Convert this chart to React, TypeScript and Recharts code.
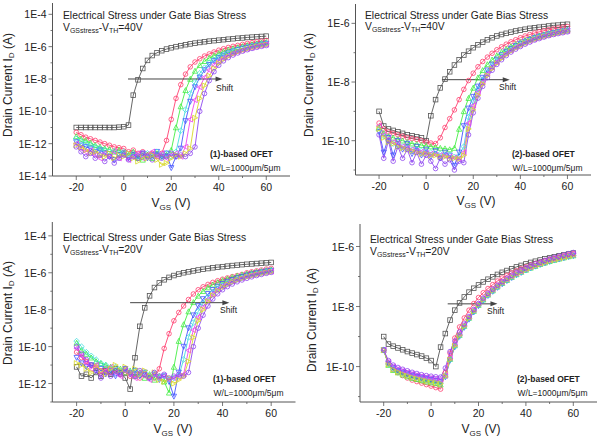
import React from "react";
import { LineChart, Line, XAxis, YAxis, ReferenceLine } from "recharts";

// gate voltage sweep (V)
const vgs = [-20, -18, -16, -14, -12, -10, -8, -6, -4, -2, 0, 2, 4, 6, 8, 10, 12, 14, 16, 18, 20, 22, 24, 26, 28, 30, 32, 34, 36, 38, 40, 42, 44, 46, 48, 50, 52, 54, 56, 58, 60];

// drain current, stored as log10(I_D / A)
// panel 1: (1)-based OFET, VGSstress - VTH = 40V
const p1Black = [-11.0, -11.0, -11.0, -11.0, -11.0, -11.0, -11.0, -11.0, -11.0, -10.98, -10.95, -10.85, -9.0, -8.05, -7.35, -6.85, -6.55, -6.38, -6.25, -6.15, -6.07, -6.0, -5.94, -5.88, -5.83, -5.78, -5.74, -5.7, -5.66, -5.63, -5.6, -5.57, -5.54, -5.51, -5.48, -5.46, -5.43, -5.41, -5.39, -5.37, -5.35];
const p1Red = [-11.3, -11.45, -11.6, -11.7, -11.8, -11.9, -12.0, -12.1, -12.2, -12.25, -12.3, -12.5, -12.4, -12.6, -12.5, -12.7, -12.6, -12.8, -12.6, -11.8, -10.5, -9.2, -8.35, -7.7, -7.25, -6.95, -6.75, -6.58, -6.45, -6.33, -6.22, -6.13, -6.05, -5.98, -5.92, -5.86, -5.8, -5.75, -5.7, -5.66, -5.62];
const p1Green = [-11.55, -11.7, -11.8, -11.95, -12.1, -12.2, -12.3, -12.35, -12.5, -12.4, -12.6, -12.7, -12.5, -12.9, -13.0, -12.7, -12.9, -12.6, -12.8, -12.7, -12.4, -11.0, -9.7, -8.7, -8.0, -7.5, -7.15, -6.9, -6.7, -6.55, -6.42, -6.3, -6.2, -6.12, -6.05, -5.98, -5.92, -5.86, -5.81, -5.76, -5.72];
const p1Cyan = [-11.7, -11.85, -12.0, -12.1, -12.2, -12.3, -12.4, -12.5, -12.45, -12.6, -12.5, -12.7, -12.6, -12.8, -12.7, -12.6, -12.8, -12.5, -12.7, -12.6, -12.8, -12.5, -11.2, -9.9, -8.9, -8.2, -7.65, -7.3, -7.0, -6.8, -6.62, -6.48, -6.36, -6.25, -6.16, -6.08, -6.01, -5.95, -5.89, -5.84, -5.79];
const p1Blue = [-11.9, -12.1, -12.2, -12.3, -12.5, -12.4, -12.6, -12.8, -13.0, -12.7, -12.6, -12.9, -12.7, -12.8, -12.6, -12.9, -12.7, -12.5, -12.8, -12.6, -13.5, -12.8, -12.3, -10.6, -9.4, -8.5, -7.9, -7.45, -7.12, -6.88, -6.7, -6.54, -6.41, -6.3, -6.2, -6.12, -6.05, -5.98, -5.92, -5.86, -5.81];
const p1Magenta = [-12.0, -12.3, -12.5, -12.4, -12.7, -12.9, -12.6, -12.8, -12.5, -12.9, -12.7, -13.0, -12.8, -12.6, -12.9, -12.7, -12.5, -12.8, -12.6, -12.9, -12.7, -12.6, -12.8, -12.2, -10.5, -9.3, -8.5, -7.9, -7.45, -7.12, -6.88, -6.7, -6.55, -6.42, -6.31, -6.22, -6.13, -6.06, -5.99, -5.93, -5.87];
const p1Yellow = [-12.1, -12.2, -12.4, -12.6, -12.5, -12.7, -12.8, -12.6, -12.9, -12.7, -12.8, -12.6, -12.9, -13.1, -12.8, -12.9, -12.7, -13.0, -13.3, -13.2, -12.9, -12.7, -12.8, -12.6, -12.3, -10.4, -9.2, -8.4, -7.8, -7.35, -7.02, -6.78, -6.6, -6.45, -6.33, -6.23, -6.14, -6.06, -5.99, -5.93, -5.88];
const p1Purple = [-12.2, -12.5, -12.8, -12.6, -12.9, -12.7, -13.1, -12.8, -13.2, -12.9, -12.7, -13.0, -12.8, -12.9, -12.6, -12.8, -13.0, -12.7, -12.9, -12.8, -12.6, -12.8, -12.7, -12.8, -12.6, -12.2, -10.0, -8.9, -8.1, -7.55, -7.15, -6.88, -6.68, -6.52, -6.39, -6.28, -6.19, -6.11, -6.04, -5.98, -5.93];

// panel 2: (2)-based OFET, 40V
const p2Black = [-9.0, -9.5, -9.6, -9.65, -9.7, -9.75, -9.8, -9.83, -9.87, -9.9, -10.0, -9.15, -8.6, -8.2, -7.9, -7.65, -7.42, -7.24, -7.08, -6.95, -6.83, -6.73, -6.64, -6.56, -6.49, -6.43, -6.38, -6.34, -6.3, -6.26, -6.23, -6.2, -6.17, -6.15, -6.13, -6.11, -6.09, -6.07, -6.06, -6.04, -6.03];
const p2Red = [-9.4, -9.6, -9.7, -9.75, -9.8, -9.85, -9.9, -9.93, -9.96, -10.0, -10.05, -10.08, -10.1, -9.9, -9.55, -9.25, -8.95, -8.6, -8.25, -7.95, -7.7, -7.48, -7.3, -7.15, -7.02, -6.9, -6.8, -6.71, -6.63, -6.56, -6.49, -6.43, -6.38, -6.33, -6.29, -6.25, -6.22, -6.19, -6.16, -6.13, -6.11];
const p2Green = [-9.55, -9.75, -9.85, -9.9, -9.95, -10.0, -10.05, -10.1, -10.12, -10.15, -10.18, -10.2, -10.22, -10.25, -10.27, -10.3, -10.25, -9.6, -9.0, -8.55, -8.2, -7.85, -7.6, -7.4, -7.24, -7.1, -6.98, -6.88, -6.79, -6.71, -6.64, -6.58, -6.52, -6.47, -6.42, -6.38, -6.34, -6.31, -6.28, -6.25, -6.22];
const p2Blue = [-9.7, -10.4, -9.9, -10.5, -10.0, -10.3, -10.1, -10.45, -10.2, -10.5, -10.3, -10.55, -10.35, -10.6, -10.4, -10.5, -10.85, -10.4, -9.5, -8.9, -8.5, -8.15, -7.85, -7.6, -7.4, -7.23, -7.08, -6.96, -6.86, -6.77, -6.69, -6.62, -6.56, -6.5, -6.45, -6.41, -6.37, -6.33, -6.3, -6.27, -6.24];
const p2Cyan = [-9.65, -9.85, -10.0, -10.1, -10.15, -10.2, -10.25, -10.3, -10.3, -10.35, -10.4, -10.4, -10.45, -10.45, -10.5, -10.5, -10.55, -10.5, -10.2, -9.2, -8.65, -8.25, -7.92, -7.66, -7.45, -7.28, -7.13, -7.0, -6.9, -6.8, -6.72, -6.65, -6.58, -6.52, -6.47, -6.42, -6.38, -6.34, -6.31, -6.28, -6.25];
const p2Magenta = [-9.5, -9.8, -9.95, -10.05, -10.1, -10.2, -10.25, -10.3, -10.35, -10.38, -10.42, -10.45, -10.48, -10.5, -10.52, -10.55, -10.58, -10.6, -10.4, -9.4, -8.8, -8.35, -8.0, -7.72, -7.5, -7.32, -7.16, -7.03, -6.92, -6.82, -6.74, -6.66, -6.6, -6.54, -6.48, -6.44, -6.4, -6.36, -6.32, -6.29, -6.26];
const p2Yellow = [-9.6, -9.9, -10.05, -10.1, -10.2, -10.25, -10.3, -10.35, -10.4, -10.45, -10.45, -10.5, -10.5, -10.55, -10.55, -10.6, -10.6, -10.62, -10.5, -9.6, -8.95, -8.45, -8.07, -7.78, -7.55, -7.36, -7.2, -7.07, -6.95, -6.85, -6.76, -6.68, -6.61, -6.55, -6.5, -6.45, -6.41, -6.37, -6.33, -6.3, -6.27];
const p2Purple = [-9.8, -10.6, -10.0, -10.7, -10.2, -10.6, -10.3, -10.75, -10.4, -10.8, -10.5, -10.7, -10.95, -10.6, -10.8, -10.65, -11.0, -10.7, -10.75, -9.8, -9.05, -8.55, -8.15, -7.85, -7.6, -7.4, -7.24, -7.1, -6.98, -6.88, -6.79, -6.71, -6.64, -6.57, -6.52, -6.47, -6.42, -6.38, -6.35, -6.32, -6.29];

// panel 3: (1)-based OFET, 20V
const p3Black = [-11.1, -11.6, -11.5, -11.7, -11.4, -11.6, -11.3, -11.5, -11.2, -11.4, -11.7, -12.3, -10.6, -8.9, -7.9, -7.25, -6.8, -6.55, -6.38, -6.25, -6.15, -6.07, -6.0, -5.95, -5.9, -5.85, -5.81, -5.77, -5.73, -5.7, -5.67, -5.64, -5.61, -5.59, -5.56, -5.54, -5.52, -5.5, -5.48, -5.46, -5.44];
const p3Red = [-10.3, -10.6, -10.8, -11.0, -11.1, -11.3, -11.2, -11.4, -11.3, -11.5, -11.4, -11.6, -11.5, -11.7, -11.5, -11.6, -11.7, -11.2, -10.1, -9.3, -8.6, -8.15, -7.8, -7.45, -7.15, -6.92, -6.76, -6.63, -6.52, -6.43, -6.35, -6.28, -6.21, -6.15, -6.09, -6.0, -5.95, -5.9, -5.85, -5.8, -5.76];
const p3Green = [-9.8, -10.2, -10.4, -10.6, -10.8, -10.9, -11.0, -11.1, -11.3, -11.2, -11.4, -11.3, -11.6, -11.4, -11.7, -11.5, -11.8, -11.6, -11.9, -12.5, -11.1, -9.7, -8.8, -8.1, -7.6, -7.25, -7.0, -6.8, -6.65, -6.52, -6.41, -6.32, -6.24, -6.17, -6.11, -6.05, -6.0, -5.95, -5.91, -5.87, -5.83];
const p3Blue = [-10.6, -10.9, -11.1, -11.0, -11.3, -11.2, -11.5, -11.3, -11.6, -11.4, -11.2, -11.5, -11.3, -11.6, -11.4, -11.7, -11.5, -11.8, -11.6, -11.9, -12.7, -11.4, -10.0, -9.0, -8.3, -7.8, -7.42, -7.14, -6.92, -6.74, -6.6, -6.48, -6.38, -6.29, -6.21, -6.14, -6.08, -6.02, -5.97, -5.92, -5.88];
const p3Cyan = [-9.7, -10.0, -10.3, -10.5, -10.7, -10.9, -11.0, -11.2, -11.1, -11.3, -11.2, -11.4, -11.3, -11.5, -11.4, -11.6, -11.5, -11.7, -11.6, -11.8, -11.7, -11.6, -10.7, -9.5, -8.7, -8.1, -7.65, -7.32, -7.06, -6.86, -6.7, -6.57, -6.46, -6.36, -6.27, -6.19, -6.12, -6.06, -6.0, -5.95, -5.9];
const p3Magenta = [-10.1, -10.5, -10.9, -11.2, -11.0, -11.5, -11.3, -11.1, -11.4, -11.6, -11.3, -11.5, -11.7, -11.4, -11.6, -11.8, -11.5, -11.7, -11.6, -11.8, -11.7, -11.6, -11.5, -10.2, -9.1, -8.4, -7.85, -7.45, -7.15, -6.92, -6.74, -6.6, -6.48, -6.38, -6.29, -6.21, -6.14, -6.08, -6.02, -5.97, -5.93];
const p3Yellow = [-10.9, -11.0, -11.2, -11.4, -11.1, -11.3, -11.5, -11.2, -11.0, -11.3, -11.1, -11.4, -11.2, -11.5, -11.3, -11.6, -11.4, -11.8, -11.9, -11.7, -12.0, -11.8, -11.6, -10.8, -9.5, -8.6, -8.0, -7.55, -7.22, -6.97, -6.78, -6.63, -6.5, -6.4, -6.31, -6.23, -6.16, -6.1, -6.04, -5.99, -5.95];
const p3Purple = [-10.0, -10.4, -10.7, -11.0, -11.3, -11.7, -11.4, -11.6, -11.3, -11.5, -11.2, -11.4, -11.6, -11.3, -11.5, -11.7, -11.4, -11.6, -11.5, -11.7, -11.6, -11.5, -11.6, -11.4, -10.0, -9.0, -8.3, -7.8, -7.42, -7.14, -6.92, -6.75, -6.61, -6.49, -6.39, -6.3, -6.22, -6.15, -6.09, -6.03, -5.98];

// panel 4: (2)-based OFET, 20V
const p4Black = [-9.0, -9.25, -9.32, -9.38, -9.44, -9.5, -9.55, -9.6, -9.65, -9.72, -9.8, -10.0, -9.35, -8.9, -8.45, -8.12, -7.88, -7.68, -7.52, -7.39, -7.28, -7.18, -7.09, -7.01, -6.93, -6.86, -6.8, -6.74, -6.68, -6.63, -6.58, -6.53, -6.49, -6.45, -6.41, -6.38, -6.34, -6.31, -6.28, -6.25, -6.22];
const p4Red = [-9.45, -9.9, -10.1, -10.2, -10.3, -10.38, -10.45, -10.5, -10.55, -10.6, -10.65, -10.7, -10.75, -10.2, -9.55, -9.05, -8.68, -8.38, -8.12, -7.9, -7.7, -7.54, -7.4, -7.27, -7.15, -7.05, -6.96, -6.88, -6.81, -6.74, -6.68, -6.62, -6.57, -6.52, -6.47, -6.43, -6.39, -6.35, -6.31, -6.28, -6.24];
const p4Green = [-9.45, -9.95, -10.12, -10.2, -10.27, -10.33, -10.38, -10.42, -10.46, -10.5, -10.53, -10.56, -10.6, -10.3, -9.75, -9.3, -8.95, -8.65, -8.38, -8.15, -7.95, -7.77, -7.61, -7.47, -7.34, -7.22, -7.12, -7.02, -6.93, -6.85, -6.78, -6.71, -6.65, -6.59, -6.54, -6.49, -6.45, -6.41, -6.37, -6.33, -6.3];
const p4Blue = [-9.45, -9.9, -10.05, -10.14, -10.2, -10.25, -10.3, -10.34, -10.38, -10.41, -10.44, -10.47, -10.5, -10.35, -9.8, -9.35, -9.0, -8.7, -8.43, -8.19, -7.98, -7.8, -7.64, -7.5, -7.37, -7.25, -7.14, -7.04, -6.95, -6.87, -6.79, -6.72, -6.66, -6.6, -6.55, -6.5, -6.46, -6.42, -6.38, -6.34, -6.31];
const p4Cyan = [-9.45, -9.92, -10.08, -10.16, -10.23, -10.29, -10.34, -10.38, -10.42, -10.46, -10.49, -10.52, -10.55, -10.32, -9.78, -9.32, -8.97, -8.67, -8.4, -8.17, -7.96, -7.78, -7.62, -7.48, -7.35, -7.23, -7.13, -7.03, -6.94, -6.86, -6.79, -6.72, -6.66, -6.6, -6.55, -6.5, -6.45, -6.41, -6.37, -6.33, -6.3];
const p4Magenta = [-9.45, -9.85, -10.0, -10.08, -10.14, -10.19, -10.24, -10.28, -10.32, -10.35, -10.38, -10.41, -10.43, -10.3, -9.7, -9.25, -8.9, -8.6, -8.34, -8.11, -7.9, -7.72, -7.57, -7.43, -7.3, -7.18, -7.08, -6.98, -6.9, -6.82, -6.74, -6.68, -6.61, -6.56, -6.5, -6.45, -6.41, -6.37, -6.33, -6.29, -6.26];
const p4Yellow = [-9.45, -9.93, -10.1, -10.18, -10.25, -10.31, -10.36, -10.4, -10.44, -10.48, -10.51, -10.54, -10.57, -10.33, -9.77, -9.31, -8.96, -8.66, -8.39, -8.16, -7.95, -7.77, -7.61, -7.47, -7.34, -7.22, -7.12, -7.02, -6.93, -6.85, -6.78, -6.71, -6.65, -6.59, -6.54, -6.49, -6.45, -6.41, -6.37, -6.33, -6.3];
const p4Purple = [-9.45, -9.8, -9.95, -10.03, -10.09, -10.14, -10.19, -10.23, -10.27, -10.3, -10.32, -10.34, -10.35, -10.05, -9.5, -9.15, -8.85, -8.58, -8.33, -8.1, -7.9, -7.72, -7.56, -7.42, -7.29, -7.17, -7.06, -6.96, -6.87, -6.79, -6.71, -6.64, -6.58, -6.52, -6.46, -6.41, -6.36, -6.32, -6.28, -6.24, -6.2];

// axis ticks (log10 exponents) and x ticks
const xMajor = [-20, 0, 20, 40, 60];
const xMinor = [-10, 10, 30, 50];
const p1YMajor = [-14, -12, -10, -8, -6, -4];
const p1YMinor = [-13, -11, -9, -7, -5];
const p2YMajor = [-10, -8, -6];
const p2YMinor = [-11, -9, -7];
const p3YMajor = [-12, -10, -8, -6, -4];
const p3YMinor = [-13, -11, -9, -7, -5];

const seriesStyle = [
  { name: "initial", color: "#555555", shape: "square" },
  { name: "s1", color: "#ff4070", shape: "circle" },
  { name: "s2", color: "#44ee44", shape: "up" },
  { name: "s3", color: "#4455ff", shape: "down" },
  { name: "s4", color: "#44dddd", shape: "diamond" },
  { name: "s5", color: "#ee44ee", shape: "left" },
  { name: "s6", color: "#d8d828", shape: "right" },
  { name: "s7", color: "#8f48f0", shape: "circle" },
];

const FONT = "'Liberation Sans', Arial, sans-serif";
const AX = "#555";

function Marker({ cx, cy, shape, color }: any) {
  if (cx == null || cy == null || isNaN(cy)) return null;
  const r = 2.3;
  const common = { fill: "none", stroke: color, strokeWidth: 0.8 };
  switch (shape) {
    case "square":
      return <rect x={cx - r} y={cy - r} width={2 * r} height={2 * r} {...common} />;
    case "up":
      return <polygon points={`${cx},${cy - r - 0.4} ${cx + r + 0.3},${cy + r} ${cx - r - 0.3},${cy + r}`} {...common} />;
    case "down":
      return <polygon points={`${cx},${cy + r + 0.4} ${cx + r + 0.3},${cy - r} ${cx - r - 0.3},${cy - r}`} {...common} />;
    case "diamond":
      return <polygon points={`${cx},${cy - r - 0.5} ${cx + r + 0.5},${cy} ${cx},${cy + r + 0.5} ${cx - r - 0.5},${cy}`} {...common} />;
    case "left":
      return <polygon points={`${cx - r - 0.4},${cy} ${cx + r},${cy - r - 0.3} ${cx + r},${cy + r + 0.3}`} {...common} />;
    case "right":
      return <polygon points={`${cx + r + 0.4},${cy} ${cx - r},${cy - r - 0.3} ${cx - r},${cy + r + 0.3}`} {...common} />;
    default:
      return <circle cx={cx} cy={cy} r={r} {...common} />;
  }
}

function XTick({ x, y, payload, side }: any) {
  const major = xMajor.includes(payload.value);
  const len = major ? 4 : 2;
  if (side === "top") {
    return <line x1={x} x2={x} y1={y} y2={y + len} stroke={AX} strokeWidth={0.8} />;
  }
  return (
    <g>
      <line x1={x} x2={x} y1={y} y2={y + len} stroke={AX} strokeWidth={0.8} />
      {major && (
        <text x={x} y={y + 11} textAnchor="middle" dominantBaseline="central" fontSize={10.5} fontFamily={FONT} fill="#222">
          {payload.value}
        </text>
      )}
    </g>
  );
}

function YTick({ x, y, payload, side, majors }: any) {
  const e = Math.round(Math.log10(payload.value));
  const major = majors.includes(e);
  const len = major ? 4 : 2;
  if (side === "right") {
    return <line x1={x} x2={x - len} y1={y} y2={y} stroke={AX} strokeWidth={0.8} />;
  }
  return (
    <g>
      <line x1={x} x2={x - len} y1={y} y2={y} stroke={AX} strokeWidth={0.8} />
      {major && (
        <text x={x - 6} y={y} textAnchor="end" dominantBaseline="central" fontSize={10.5} fontFamily={FONT} fill="#222">
          {`1E${e}`}
        </text>
      )}
    </g>
  );
}

function ArrowShape(props: any) {
  const { x1, y1, x2, y2 } = props;
  return (
    <g>
      <line x1={x1} y1={y1} x2={x2 - 5} y2={y2} stroke="#444" strokeWidth={1} />
      <polygon points={`${x2},${y2} ${x2 - 7},${y2 - 2.5} ${x2 - 7},${y2 + 2.5}`} fill="#444" />
    </g>
  );
}

interface PanelProps {
  box: { left: number; top: number; width: number; height: number };
  margin: { top: number; right: number; left: number; bottom: number };
  yWidth: number;
  xHeight: number;
  yRange: [number, number];
  yMajor: number[];
  yMinor: number[];
  values: number[][];
  arrow: { x1: number; x2: number; y: number };
}

function Panel({ box, margin, yWidth, xHeight, yRange, yMajor, yMinor, values, arrow }: PanelProps) {
  const data = vgs.map((v, i) => {
    const row: any = { v };
    values.forEach((s, k) => {
      row[`s${k}`] = Math.pow(10, s[i]);
    });
    return row;
  });
  const yTicks = [...yMajor, ...yMinor].sort((a, b) => a - b).map((e) => Math.pow(10, e));
  const yDomain = [Math.pow(10, yRange[0]), Math.pow(10, yRange[1])];
  const xTicks = [...xMajor, ...xMinor].sort((a, b) => a - b);
  return (
    <div style={{ position: "absolute", left: box.left, top: box.top }}>
      <LineChart width={box.width} height={box.height} data={data} margin={margin}>
        <XAxis
          dataKey="v"
          type="number"
          domain={[-30, 70]}
          allowDataOverflow
          ticks={xTicks}
          interval={0}
          tickSize={0}
          tickMargin={0}
          tickLine={false}
          axisLine={{ stroke: AX, strokeWidth: 1 }}
          height={xHeight}
          tick={(p: any) => <XTick {...p} side="bottom" />}
        />
        <XAxis
          xAxisId="top"
          orientation="top"
          dataKey="v"
          type="number"
          domain={[-30, 70]}
          allowDataOverflow
          ticks={xTicks}
          interval={0}
          tickSize={0}
          tickMargin={0}
          tickLine={false}
          axisLine={{ stroke: AX, strokeWidth: 1 }}
          height={0}
          tick={(p: any) => <XTick {...p} side="top" />}
        />
        <YAxis
          type="number"
          scale="log"
          domain={yDomain}
          allowDataOverflow
          ticks={yTicks}
          interval={0}
          tickSize={0}
          tickMargin={0}
          tickLine={false}
          axisLine={{ stroke: AX, strokeWidth: 1 }}
          width={yWidth}
          tick={(p: any) => <YTick {...p} side="left" majors={yMajor} />}
        />
        <YAxis
          yAxisId="right"
          orientation="right"
          type="number"
          scale="log"
          domain={yDomain}
          allowDataOverflow
          ticks={yTicks}
          interval={0}
          tickSize={0}
          tickMargin={0}
          tickLine={false}
          axisLine={{ stroke: AX, strokeWidth: 1 }}
          width={0}
          tick={(p: any) => <YTick {...p} side="right" majors={yMajor} />}
        />
        {values.map((_, k) => {
          const st = seriesStyle[k];
          return (
            <Line
              key={st.name}
              dataKey={`s${k}`}
              stroke={st.color}
              strokeWidth={0.9}
              isAnimationActive={false}
              type="linear"
              dot={(p: any) => <Marker key={`${st.name}-${p.index}`} cx={p.cx} cy={p.cy} shape={st.shape} color={st.color} />}
            />
          );
        })}
        <ReferenceLine
          segment={[
            { x: arrow.x1, y: Math.pow(10, arrow.y) },
            { x: arrow.x2, y: Math.pow(10, arrow.y) },
          ]}
          ifOverflow="visible"
          shape={ArrowShape}
        />
      </LineChart>
    </div>
  );
}

const txt: React.CSSProperties = {
  position: "absolute",
  fontFamily: FONT,
  color: "#222",
  whiteSpace: "nowrap",
  lineHeight: 1,
};

function Notes({ left, top, stress, device, shiftX, shiftY, titleX, titleY, devX, devY }: any) {
  return (
    <>
      <div style={{ ...txt, left: titleX, top: titleY, fontSize: 10.3 }}>Electrical Stress under Gate Bias Stress</div>
      <div style={{ ...txt, left: titleX, top: titleY + 11.5, fontSize: 10.3 }}>
        V<sub style={{ fontSize: 7, verticalAlign: -2 }}>GSstress</sub>-V<sub style={{ fontSize: 7, verticalAlign: -2 }}>TH</sub>={stress}
      </div>
      <div style={{ ...txt, left: shiftX, top: shiftY, fontSize: 8.5 }}>Shift</div>
      <div style={{ ...txt, left: devX, top: devY, fontSize: 8.5, fontWeight: "bold" }}>{device}</div>
      <div style={{ ...txt, left: devX + 0.5, top: devY + 13.5, fontSize: 8.5 }}>W/L=1000μm/5μm</div>
      <div style={{ ...txt, left: left.x, top: left.y, fontSize: 12, transform: "translate(-50%, -50%) rotate(-90deg)" }}>
        Drain Current I<sub style={{ fontSize: 8, verticalAlign: -2 }}>D</sub> (A)
      </div>
      <div style={{ ...txt, left: top.x, top: top.y, fontSize: 12, transform: "translate(-50%, -50%)" }}>
        V<sub style={{ fontSize: 8, verticalAlign: -3 }}>GS</sub> (V)
      </div>
    </>
  );
}

export default function App() {
  return (
    <div style={{ position: "absolute", left: 0, top: 0, width: 602, height: 441, background: "#fff", overflow: "hidden" }}>
      <Panel
        box={{ left: 0, top: 0, width: 300, height: 220 }}
        margin={{ top: 3, right: 10, left: 0, bottom: 0 }}
        yWidth={52.5}
        xHeight={44}
        yRange={[-14, -3.3]}
        yMajor={p1YMajor}
        yMinor={p1YMinor}
        values={[p1Black, p1Red, p1Green, p1Blue, p1Cyan, p1Magenta, p1Yellow, p1Purple]}
        arrow={{ x1: 1.8, x2: 41.6, y: -8 }}
      />
      <Panel
        box={{ left: 300, top: 0, width: 302, height: 220 }}
        margin={{ top: 4, right: 11, left: 0, bottom: 0 }}
        yWidth={55.5}
        xHeight={45}
        yRange={[-11.17, -5.34]}
        yMajor={p2YMajor}
        yMinor={p2YMinor}
        values={[p2Black, p2Red, p2Green, p2Blue, p2Cyan, p2Magenta, p2Yellow, p2Purple]}
        arrow={{ x1: 6.7, x2: 35.5, y: -7.92 }}
      />
      <Panel
        box={{ left: 0, top: 220, width: 300, height: 221 }}
        margin={{ top: 2, right: 4.5, left: 0, bottom: 0 }}
        yWidth={52.3}
        xHeight={39}
        yRange={[-13, -3.25]}
        yMajor={p3YMajor}
        yMinor={p3YMinor}
        values={[p3Black, p3Red, p3Green, p3Blue, p3Cyan, p3Magenta, p3Yellow, p3Purple]}
        arrow={{ x1: 2, x2: 42.8, y: -7.62 }}
      />
      <Panel
        box={{ left: 300, top: 220, width: 302, height: 221 }}
        margin={{ top: 4, right: 5, left: 0, bottom: 0 }}
        yWidth={60}
        xHeight={39}
        yRange={[-11.18, -5.25]}
        yMajor={p2YMajor}
        yMinor={p2YMinor}
        values={[p4Black, p4Red, p4Green, p4Blue, p4Cyan, p4Magenta, p4Yellow, p4Purple]}
        arrow={{ x1: 7, x2: 28, y: -7.91 }}
      />
      <Notes stress="40V" device="(1)-based OFET" titleX={63} titleY={11} shiftX={216} shiftY={84} devX={210} devY={150} left={{ x: 8.5, y: 85 }} top={{ x: 171, y: 204 }} />
      <Notes stress="40V" device="(2)-based OFET" titleX={365} titleY={10.5} shiftX={499} shiftY={83} devX={512} devY={150} left={{ x: 310, y: 85 }} top={{ x: 476, y: 202 }} />
      <Notes stress="20V" device="(1)-based OFET" titleX={63} titleY={233} shiftX={220} shiftY={306} devX={213} devY={375} left={{ x: 8.5, y: 313 }} top={{ x: 173, y: 430 }} />
      <Notes stress="20V" device="(2)-based OFET" titleX={370} titleY={235} shiftX={487} shiftY={307} devX={517} devY={375} left={{ x: 313, y: 320 }} top={{ x: 481, y: 430 }} />
    </div>
  );
}
